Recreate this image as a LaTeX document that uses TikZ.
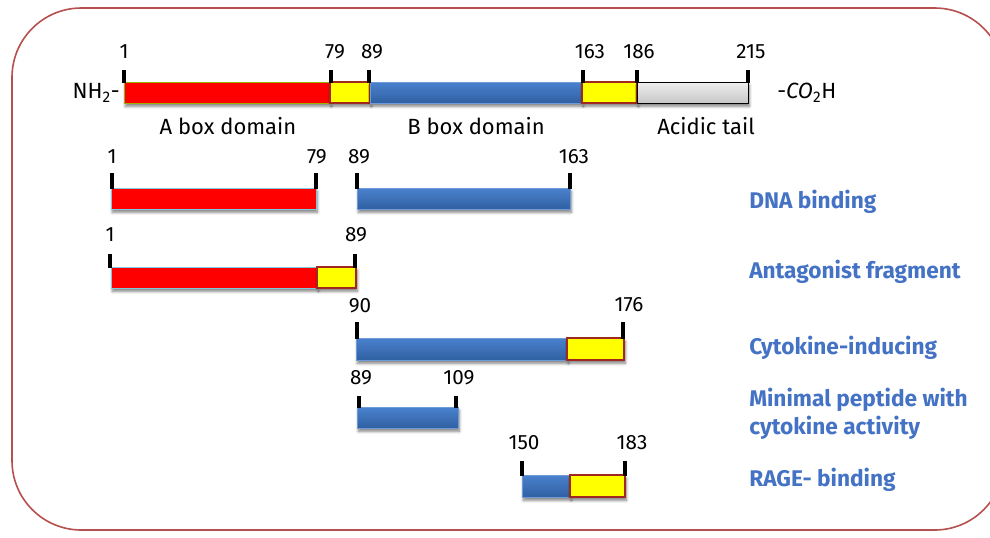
\documentclass[tikz,border=0pt]{standalone}
\usepackage{fontspec}
\setmainfont{Fira Sans}
\usetikzlibrary{shadows.blur}
\definecolor{frameRed}{HTML}{B5504E}
\definecolor{barRed}{HTML}{FF0000}
\definecolor{barYel}{HTML}{FFFF00}
\definecolor{yelEdge}{HTML}{A0281E}
\definecolor{blueTop}{HTML}{4A82CE}
\definecolor{blueBot}{HTML}{3060A2}
\definecolor{labBlue}{HTML}{4472C4}
\definecolor{greyTop}{HTML}{EFEFEF}
\definecolor{greyBot}{HTML}{C6C6C6}
\definecolor{cyanEdge}{HTML}{7EC8E0}
\begin{document}
\begin{tikzpicture}[x=0.75pt,y=-0.75pt,
  shd/.style={blur shadow={shadow xshift=1pt,shadow yshift=-2.5pt,shadow blur steps=6,shadow opacity=50}},
  redseg/.style={fill=barRed,draw=cyanEdge,line width=0.4pt,shd},
  yelseg/.style={fill=barYel,draw=yelEdge,line width=0.8pt,shd},
  blueseg/.style={top color=blueTop,bottom color=blueBot,draw=blueTop!80!white,line width=0.3pt,shd},
  greyseg/.style={top color=greyTop,bottom color=greyBot,draw=black,line width=0.6pt,shd},
  tickmark/.style={draw=black,line width=2.3pt},
  num/.style={font=\fontsize{15.5}{17}\selectfont,inner sep=0pt,anchor=center},
  dom/.style={font=\fontsize{16.5}{18}\selectfont,inner sep=0pt},
  func/.style={font=\fontsize{17}{21}\selectfont\bfseries,text=labBlue,inner sep=0pt,anchor=west,align=left}]
\useasboundingbox (0,0) rectangle (990,537);
\begin{scope}
\clip (0,0) rectangle (990,537);
\draw[frameRed,line width=1.2pt,rounded corners=52pt] (12,8) rectangle (1004,530);
\end{scope}

% ---- main bar ----
\path[redseg,draw=orange!60!green] (124,82) rectangle (330,103);
\path[yelseg] (330,82) rectangle (370,103);
\path[blueseg] (370,82) rectangle (582,103);
\path[yelseg] (582,82) rectangle (637,103);
\path[greyseg] (637,82) rectangle (748,103);
\foreach \x in {124,331,369,583,637,748} \draw[tickmark] (\x,70) -- (\x,83);
\node[num] (m1) at (124,52) {1};
\node[num] (m79) at (335,52) {79};
\node[num] (m89) at (372,52) {89};
\node[num] (m163) at (590,52) {163};
\node[num] (m186) at (639,52) {186};
\node[num] (m215) at (751,52) {215};
\node[dom,anchor=east] (nh2) at (120,93) {NH\textsubscript{2}-};
\node[dom,anchor=west] (co2h) at (777,93) {-\textit{CO}\textsubscript{2}H};
\node[dom] (abox) at (228,126) {A box domain};
\node[dom] (bbox) at (476,126) {B box domain};
\node[dom] (acid) at (706,126) {Acidic tail};

% ---- DNA binding ----
\path[redseg] (111,188) rectangle (316,209);
\path[blueseg] (357,188) rectangle (570,209);
\foreach \x in {112,316,357,570} \draw[tickmark] (\x,173) -- (\x,189);
\node[num] (d1) at (112,157) {1};
\node[num] (d79) at (317,157) {79};
\node[num] (d89) at (359,157) {89};
\node[num] (d163) at (574,157) {163};
\node[func] (fdna) at (749,202) {DNA binding};

% ---- Antagonist fragment ----
\path[redseg] (111,267) rectangle (317,288);
\path[yelseg] (317,267) rectangle (356,288);
\foreach \x in {110,355} \draw[tickmark] (\x,254) -- (\x,268);
\node[num] (a1) at (110,235) {1};
\node[num] (a89) at (356,235) {89};
\node[func] (fant) at (749,272) {Antagonist fragment};

% ---- Cytokine-inducing ----
\path[blueseg] (356,338) rectangle (567,360);
\path[yelseg] (567,338) rectangle (624,360);
\foreach \x in {357,623} \draw[tickmark] (\x,322) -- (\x,339);
\node[num] (c90) at (360,306) {90};
\node[num] (c176) at (629,305) {176};
\node[func] (fcyt) at (749,348) {Cytokine-inducing};

% ---- Minimal peptide ----
\path[blueseg] (357,407) rectangle (458,428);
\foreach \x in {359,456} \draw[tickmark] (\x,396) -- (\x,408);
\node[num] (p89) at (361,378) {89};
\node[num] (p109) at (459,378) {109};
\node[func] (fmin) at (749,414) {Minimal peptide with\\cytokine activity};

% ---- RAGE binding ----
\path[blueseg] (522,475) rectangle (570,497);
\path[yelseg] (570,475) rectangle (625,497);
\foreach \x in {522,625} \draw[tickmark] (\x,461) -- (\x,476);
\node[num] (r150) at (524,443) {150};
\node[num] (r183) at (632,443) {183};
\node[func] (frage) at (749,480) {RAGE- binding};
\end{tikzpicture}
\end{document}
